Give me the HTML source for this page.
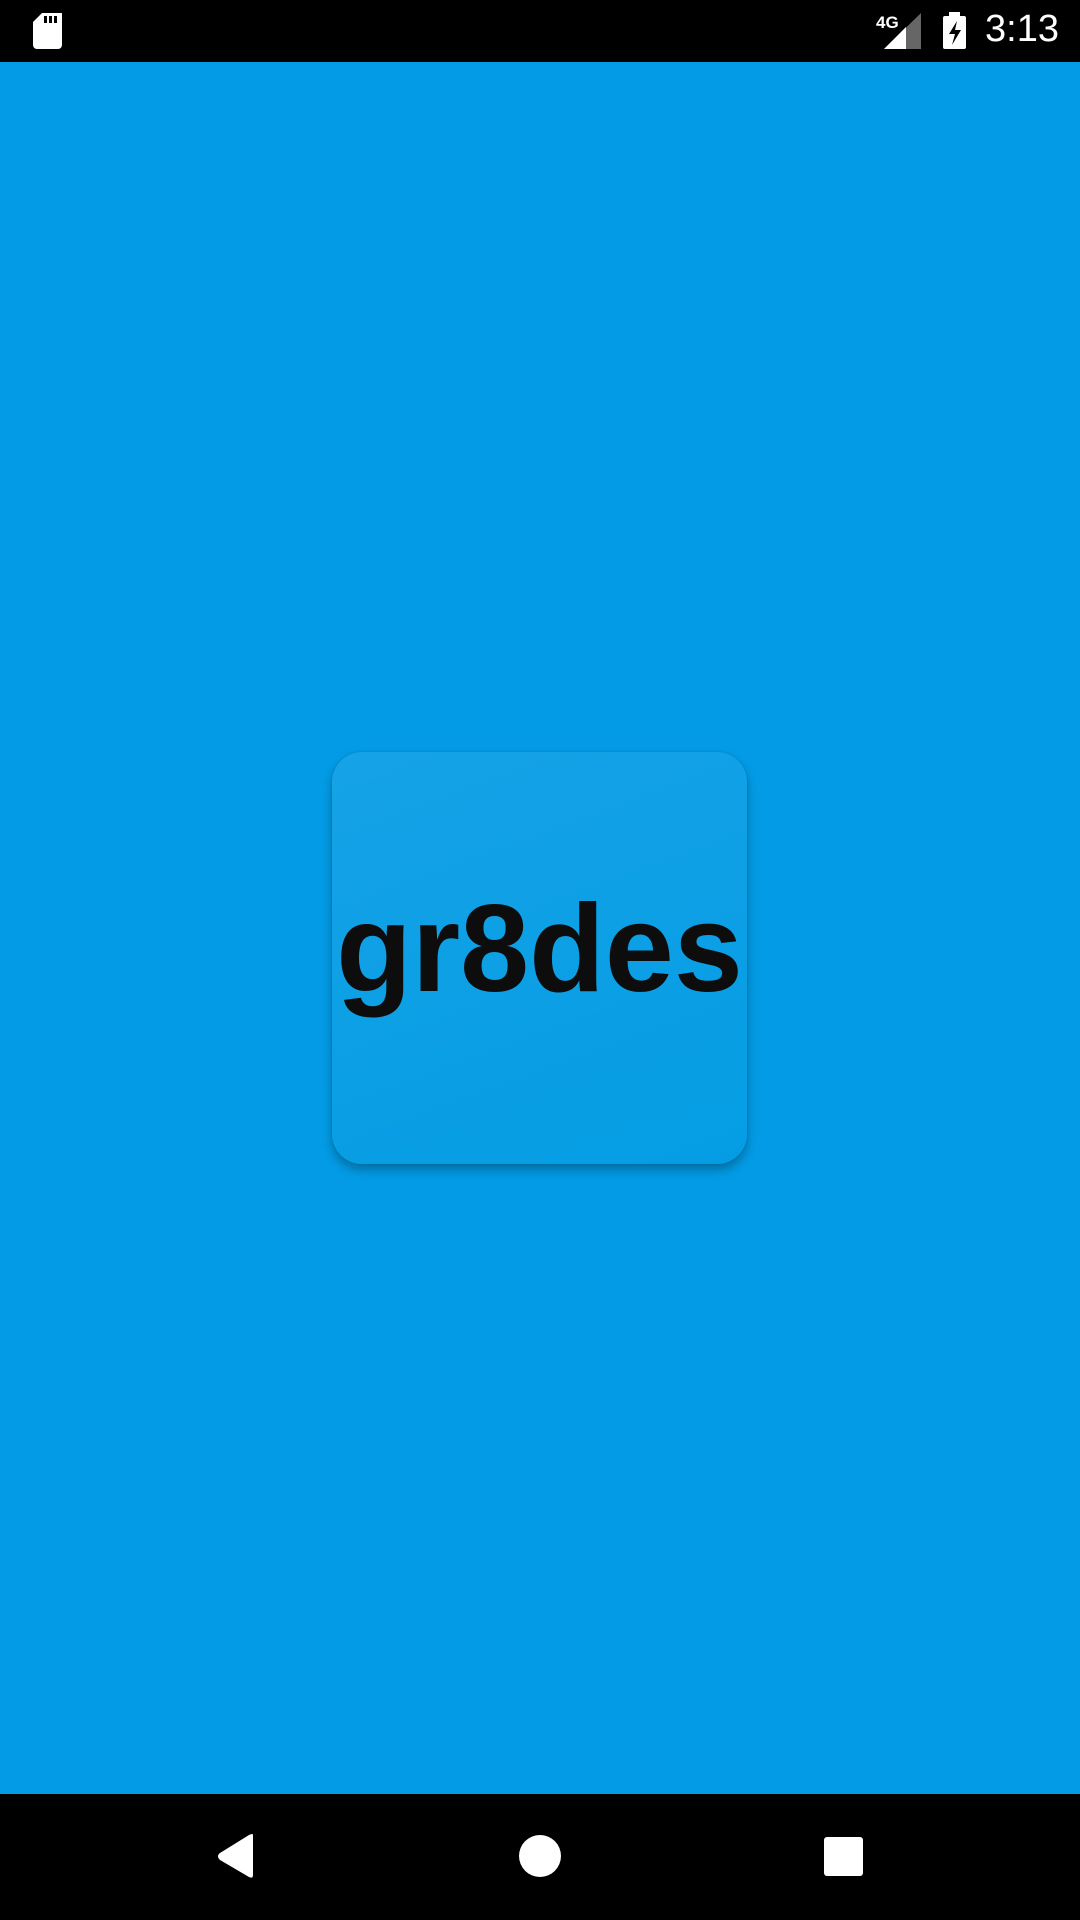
<!DOCTYPE html>
<html><head><meta charset="utf-8"><style>
html,body{margin:0;padding:0;width:1080px;height:1920px;overflow:hidden;background:#039BE5;font-family:"Liberation Sans",sans-serif}
#status{position:absolute;left:0;top:0;width:1080px;height:62px;background:#000}
#nav{position:absolute;left:0;top:1794px;width:1080px;height:126px;background:#000}
#card{position:absolute;left:332px;top:752px;width:415px;height:412px;border-radius:30px;background:linear-gradient(160deg,#16A2E6,#049DE4);box-shadow:0 6px 10px rgba(0,0,0,0.28),0 0 2px rgba(0,0,0,0.15)}
#logo{position:absolute;left:0;top:0;width:415px;height:412px;text-align:center;line-height:394px;font-weight:bold;font-size:124px;letter-spacing:0;color:#0d0d0d;white-space:nowrap}
#time{position:absolute;left:985px;top:8px;color:#fff;font-size:38px}
</style></head><body>
<div id="status">
<svg width="1080" height="62" style="position:absolute;left:0;top:0">
<path d="M42 13 H62 V45 a4 4 0 0 1 -4 4 H37 a4 4 0 0 1 -4 -4 V22 Z" fill="#fff"/>
<rect x="44" y="16" width="3" height="7" fill="#000"/><rect x="49" y="16" width="3" height="7" fill="#000"/><rect x="54" y="16" width="3" height="7" fill="#000"/>
<text x="876" y="28" fill="#fff" font-size="17" font-weight="bold" font-family="Liberation Sans">4G</text>
<polygon points="884,49 921,13 921,49" fill="#666"/>
<polygon points="884,49 906,27 906,49" fill="#fff"/>
<rect x="943" y="16" width="23" height="33" rx="2" fill="#fff"/>
<rect x="949" y="12" width="11" height="5" fill="#fff"/>
<polygon points="957,21 949,34 955,34 952,45 961,30 955,30" fill="#000"/>
</svg>
<div id="time">3:13</div>
</div>
<div id="card"><div id="logo">gr8des</div></div>
<div id="nav">
<svg width="1080" height="126" style="position:absolute;left:0;top:0">
<path d="M253 41 L253 81 Q253 85 249 83 L220 66 Q216 62 220 59 L249 41 Q253 39 253 41Z" fill="#fff"/>
<circle cx="540" cy="62" r="21" fill="#fff"/>
<rect x="824" y="43" width="39" height="39" rx="3" fill="#fff"/>
</svg>
</div>
</body></html>
